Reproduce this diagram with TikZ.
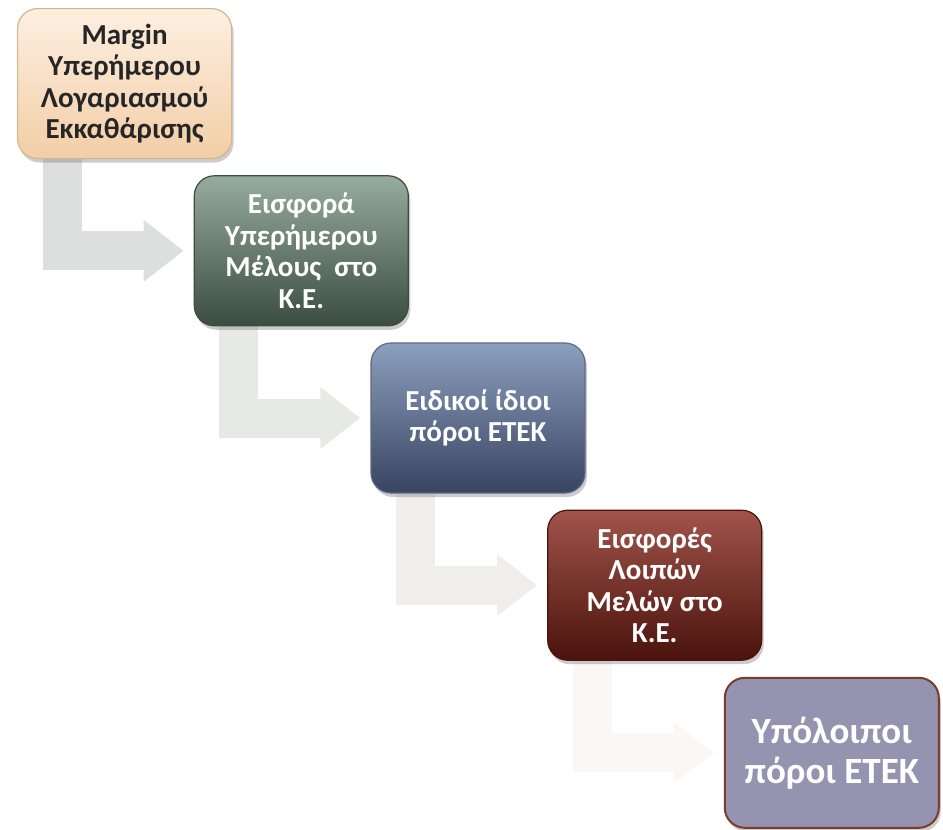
\documentclass[tikz,border=0pt]{standalone}
\usepackage{fontspec}
\setmainfont{Carlito}
\usetikzlibrary{positioning}
\usetikzlibrary{shadows,arrows.meta,backgrounds}

\definecolor{peachtop}{HTML}{FDEFE1}
\definecolor{peachbot}{HTML}{F2CEA6}
\definecolor{peachline}{HTML}{D8B48B}
\definecolor{sagetop}{HTML}{96AC9D}
\definecolor{sagebot}{HTML}{3B4C40}
\definecolor{slatetop}{HTML}{8C9FBE}
\definecolor{slatebot}{HTML}{384461}
\definecolor{rusttop}{HTML}{A0544B}
\definecolor{rustbot}{HTML}{4A130C}
\definecolor{lilac}{HTML}{9494B1}
\definecolor{lilacline}{HTML}{7B3C30}
\definecolor{bentA}{HTML}{DCDFDE}
\definecolor{bentB}{HTML}{E6E9E6}
\definecolor{bentC}{HTML}{EFEEEA}
\definecolor{bentD}{HTML}{FBF7F4}

\begin{document}
\begin{tikzpicture}[x=1pt,y=-1pt,node distance=16pt and -38.5pt,
      stage/.style={rectangle,rounded corners=20pt,minimum width=214pt,
        minimum height=150pt,inner sep=1pt,align=center,line width=1.2pt,
        font=\fontsize{29}{31.5}\selectfont\bfseries,text=white,
        drop shadow={opacity=0.4,shadow xshift=2pt,shadow yshift=-4pt}},
      bent/.style={line width=39pt,line join=miter,
        -{Triangle[length=40pt,width=59pt]}}]
\useasboundingbox (0,0) rectangle (943,830);
\node (margin) [stage,anchor=north west,text=black!85,draw=peachline,
  top color=peachtop,bottom color=peachbot] at (17,8)
  {Margin\\Υπερήμερου\\Λογαριασμού\\Εκκαθάρισης};
\node (eisfora) [stage,below right=of margin,draw=sagebot,
  top color=sagetop,bottom color=sagebot]
  {Εισφορά\\Υπερήμερου\\Μέλους~ στο\\Κ.Ε.};
\node (eidikoi) [stage,below right=of eisfora,draw=slatebot!80,
  top color=slatetop,bottom color=slatebot]
  {Ειδικοί ίδιοι\\πόροι ΕΤΕΚ};
\node (loipwn) [stage,below right=of eidikoi,draw=rustbot,
  top color=rusttop,bottom color=rustbot]
  {Εισφορές\\Λοιπών\\Μελών στο\\Κ.Ε.};
\node (ypoloipoi) [stage,below right=of loipwn,draw=lilacline,line width=2pt,
  fill=lilac,font=\fontsize{37}{40}\selectfont\bfseries]
  {Υπόλοιποι\\πόροι ΕΤΕΚ};
\begin{scope}[on background layer]
\draw[bent,draw=bentA] ([xshift=45pt]margin.south west) |- ([xshift=-10pt]eisfora.west);
\draw[bent,draw=bentB] ([xshift=45pt]eisfora.south west) |- ([xshift=-10pt]eidikoi.west);
\draw[bent,draw=bentC] ([xshift=45pt]eidikoi.south west) |- ([xshift=-10pt]loipwn.west);
\draw[bent,draw=bentD] ([xshift=45pt]loipwn.south west) |- ([xshift=-10pt]ypoloipoi.west);
\end{scope}
\end{tikzpicture}
\end{document}
